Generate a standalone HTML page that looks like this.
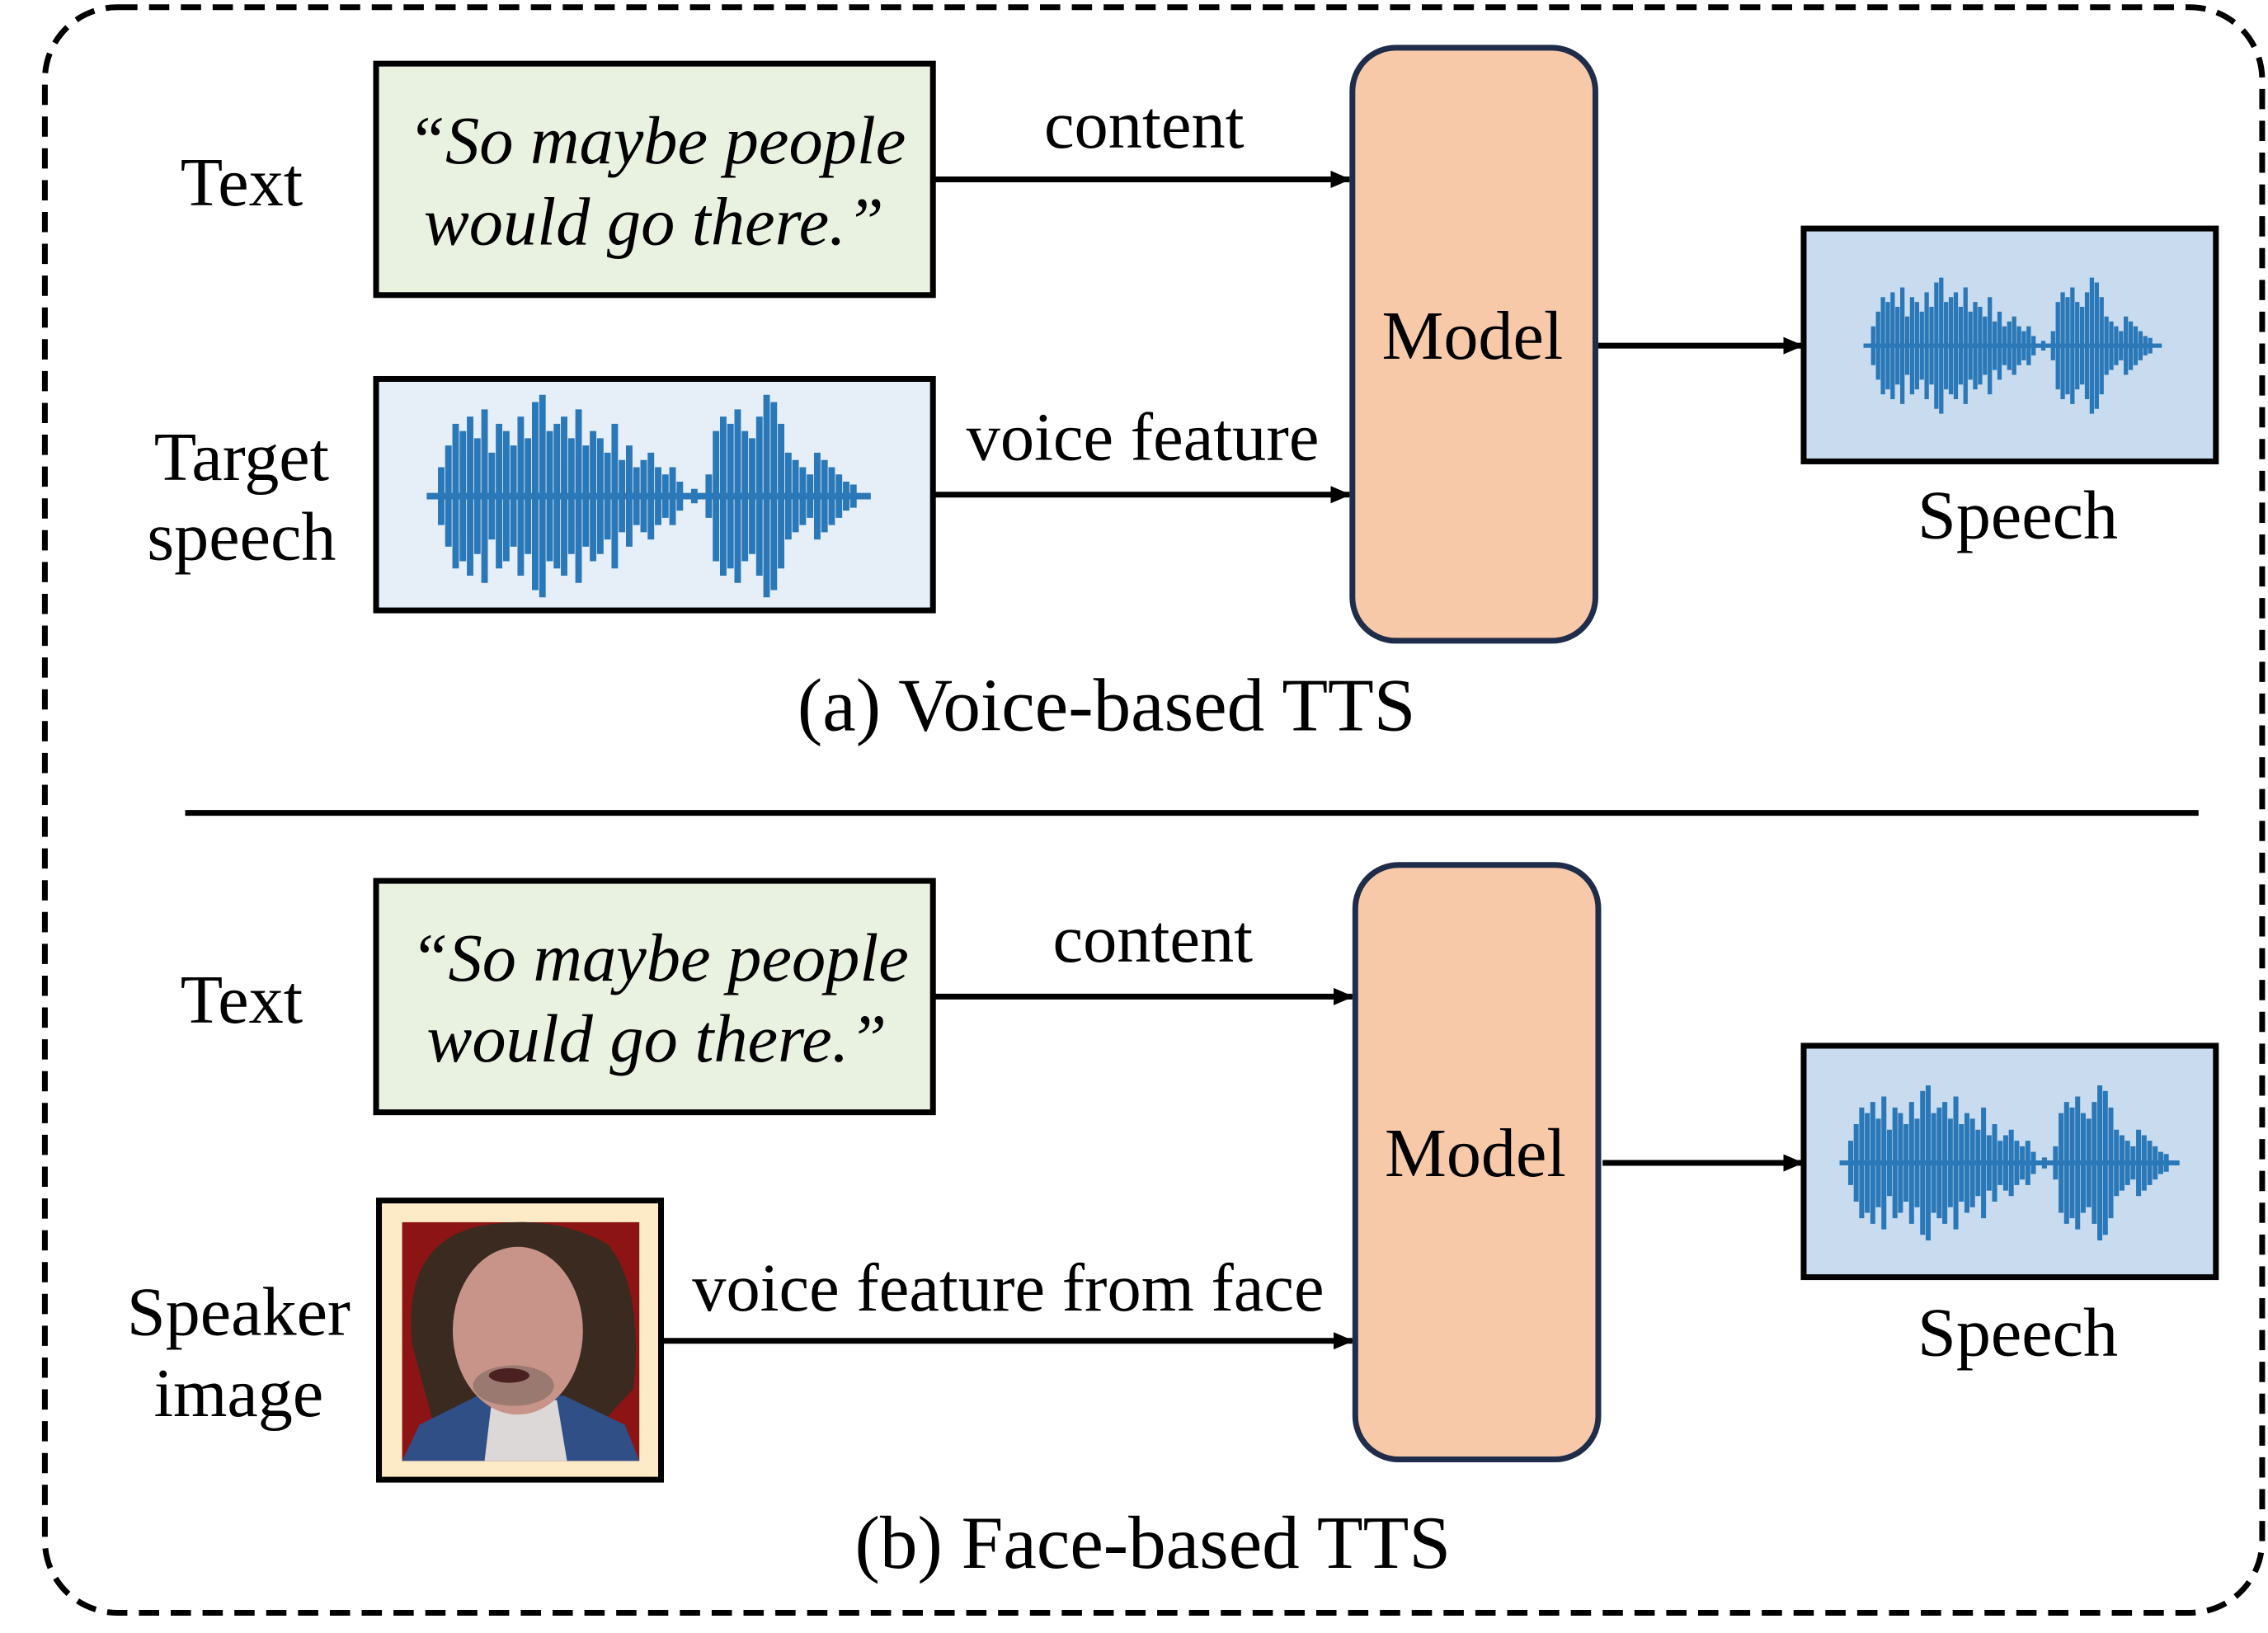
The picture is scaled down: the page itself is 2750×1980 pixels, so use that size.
<!DOCTYPE html>
<html><head><meta charset="utf-8"><style>
html,body{margin:0;padding:0;background:#fff}
svg{display:block}
text{font-family:"Liberation Serif",serif;fill:#000}
</style></head><body>
<svg width="2750" height="1980" viewBox="0 0 1568 1129" xmlns="http://www.w3.org/2000/svg">
<defs>
<marker id="ah" markerWidth="14" markerHeight="12" refX="13" refY="6" orient="auto" markerUnits="userSpaceOnUse">
<path d="M0,0 L14,6 L0,12 z" fill="#000"/></marker>
<symbol id="wave" viewBox="0 0 320 150">
<path fill="none" stroke="#2a78b8" stroke-width="4.5" d="M5 75H312
M15 55V95M20 40V110M25 25V125M30 30V120M35 20V130M40 35V115M45 15V135M50 45V105M55 25V125M60 30V120M65 40V110M70 20V130M75 35V115M80 10V140M85 5V145M90 30V120M95 25V125M100 20V130M105 35V115M110 15V135M115 40V110M120 30V120M125 35V115M130 45V105M135 25V125M140 50V100M145 40V110M150 55V95M155 50V100M160 45V105M165 55V95M170 60V90M175 55V95M180 65V85M190 70V80M200 60V90M205 30V120M210 20V130M215 25V125M220 15V135M225 30V120M230 35V115M235 20V130M240 5V145M245 10V140M250 25V125M255 45V105M260 50V100M265 55V95M270 60V90M275 45V105M280 50V100M285 55V95M290 60V90M295 65V85M300 67V83"/>
</symbol>
</defs>
<rect x="31" y="5" width="1533" height="1110" rx="50" fill="none" stroke="#000" stroke-width="4" stroke-dasharray="14,8"/>

<!-- (a) -->
<text x="167" y="142" font-size="48" text-anchor="middle">Text</text>
<rect x="260" y="44" width="385" height="160" fill="#e9f2e1" stroke="#000" stroke-width="4"/>
<text x="454" y="113" font-size="47" font-style="italic" text-anchor="middle">“So maybe people</text>
<text x="452" y="169" font-size="47" font-style="italic" text-anchor="middle">would go there.”</text>
<line x1="645" y1="124" x2="933" y2="124" stroke="#000" stroke-width="4" marker-end="url(#ah)"/>
<text x="791" y="102" font-size="47" text-anchor="middle">content</text>

<text x="167" y="332" font-size="48" text-anchor="middle">Target</text>
<text x="167" y="387" font-size="48" text-anchor="middle">speech</text>
<rect x="260" y="262" width="385" height="160" fill="#e6eef8" stroke="#000" stroke-width="4"/>
<use href="#wave" x="290" y="268" width="320" height="150"/>
<line x1="645" y1="342" x2="933" y2="342" stroke="#000" stroke-width="4" marker-end="url(#ah)"/>
<text x="790" y="318" font-size="47" text-anchor="middle">voice feature</text>

<rect x="935" y="33" width="168" height="410" rx="30" fill="#f8c9a9" stroke="#1f2d4a" stroke-width="4"/>
<text x="1018" y="248" font-size="48" text-anchor="middle">Model</text>
<line x1="1105" y1="239" x2="1246" y2="239" stroke="#000" stroke-width="4" marker-end="url(#ah)"/>
<rect x="1247" y="158" width="285" height="161" fill="#c9dcef" stroke="#000" stroke-width="4"/>
<use href="#wave" x="1285" y="164" width="215" height="150"/>
<text x="1395" y="372" font-size="48" text-anchor="middle">Speech</text>
<text x="765" y="505" font-size="52" text-anchor="middle">(a) Voice-based TTS</text>

<line x1="128" y1="562" x2="1520" y2="562" stroke="#000" stroke-width="4"/>

<!-- (b) -->
<text x="167" y="707" font-size="48" text-anchor="middle">Text</text>
<rect x="260" y="609" width="385" height="160" fill="#e9f2e1" stroke="#000" stroke-width="4"/>
<text x="456" y="678" font-size="47" font-style="italic" text-anchor="middle">“So maybe people</text>
<text x="454" y="734" font-size="47" font-style="italic" text-anchor="middle">would go there.”</text>
<line x1="645" y1="689" x2="935" y2="689" stroke="#000" stroke-width="4" marker-end="url(#ah)"/>
<text x="797" y="665" font-size="47" text-anchor="middle">content</text>

<text x="165" y="923" font-size="48" text-anchor="middle">Speaker</text>
<text x="165" y="979" font-size="48" text-anchor="middle">image</text>
<rect x="262" y="830" width="195" height="193" fill="#fdebc8" stroke="#000" stroke-width="4"/>
<g>
<rect x="278" y="845" width="164" height="165" fill="#8c1414"/>
<path d="M285 930 Q278 860 330 848 Q380 838 420 860 Q445 890 438 960 L415 985 L300 985 Z" fill="#3a2a20"/>
<path d="M278 1010 L290 985 L330 965 L390 965 L432 985 L442 1010 Z" fill="#2f4f86"/>
<path d="M335 1010 L340 968 L385 968 L392 1010 Z" fill="#ddd8d8"/>
<ellipse cx="358" cy="920" rx="45" ry="58" fill="#c8948a"/>
<ellipse cx="355" cy="958" rx="28" ry="14" fill="#9a7a70"/>
<ellipse cx="352" cy="951" rx="14" ry="5" fill="#4a2020"/>
</g>
<line x1="457" y1="927" x2="935" y2="927" stroke="#000" stroke-width="4" marker-end="url(#ah)"/>
<text x="697" y="906" font-size="47" text-anchor="middle">voice feature from face</text>

<rect x="937" y="598" width="168" height="411" rx="30" fill="#f8c9a9" stroke="#1f2d4a" stroke-width="4"/>
<text x="1020" y="813" font-size="48" text-anchor="middle">Model</text>
<line x1="1108" y1="804" x2="1246" y2="804" stroke="#000" stroke-width="4" marker-end="url(#ah)"/>
<rect x="1247" y="723" width="285" height="160" fill="#c9dcef" stroke="#000" stroke-width="4"/>
<use href="#wave" x="1268" y="729" width="245" height="150"/>
<text x="1395" y="937" font-size="48" text-anchor="middle">Speech</text>
<text x="797" y="1084" font-size="52" text-anchor="middle">(b) Face-based TTS</text>
</svg>
</body></html>
